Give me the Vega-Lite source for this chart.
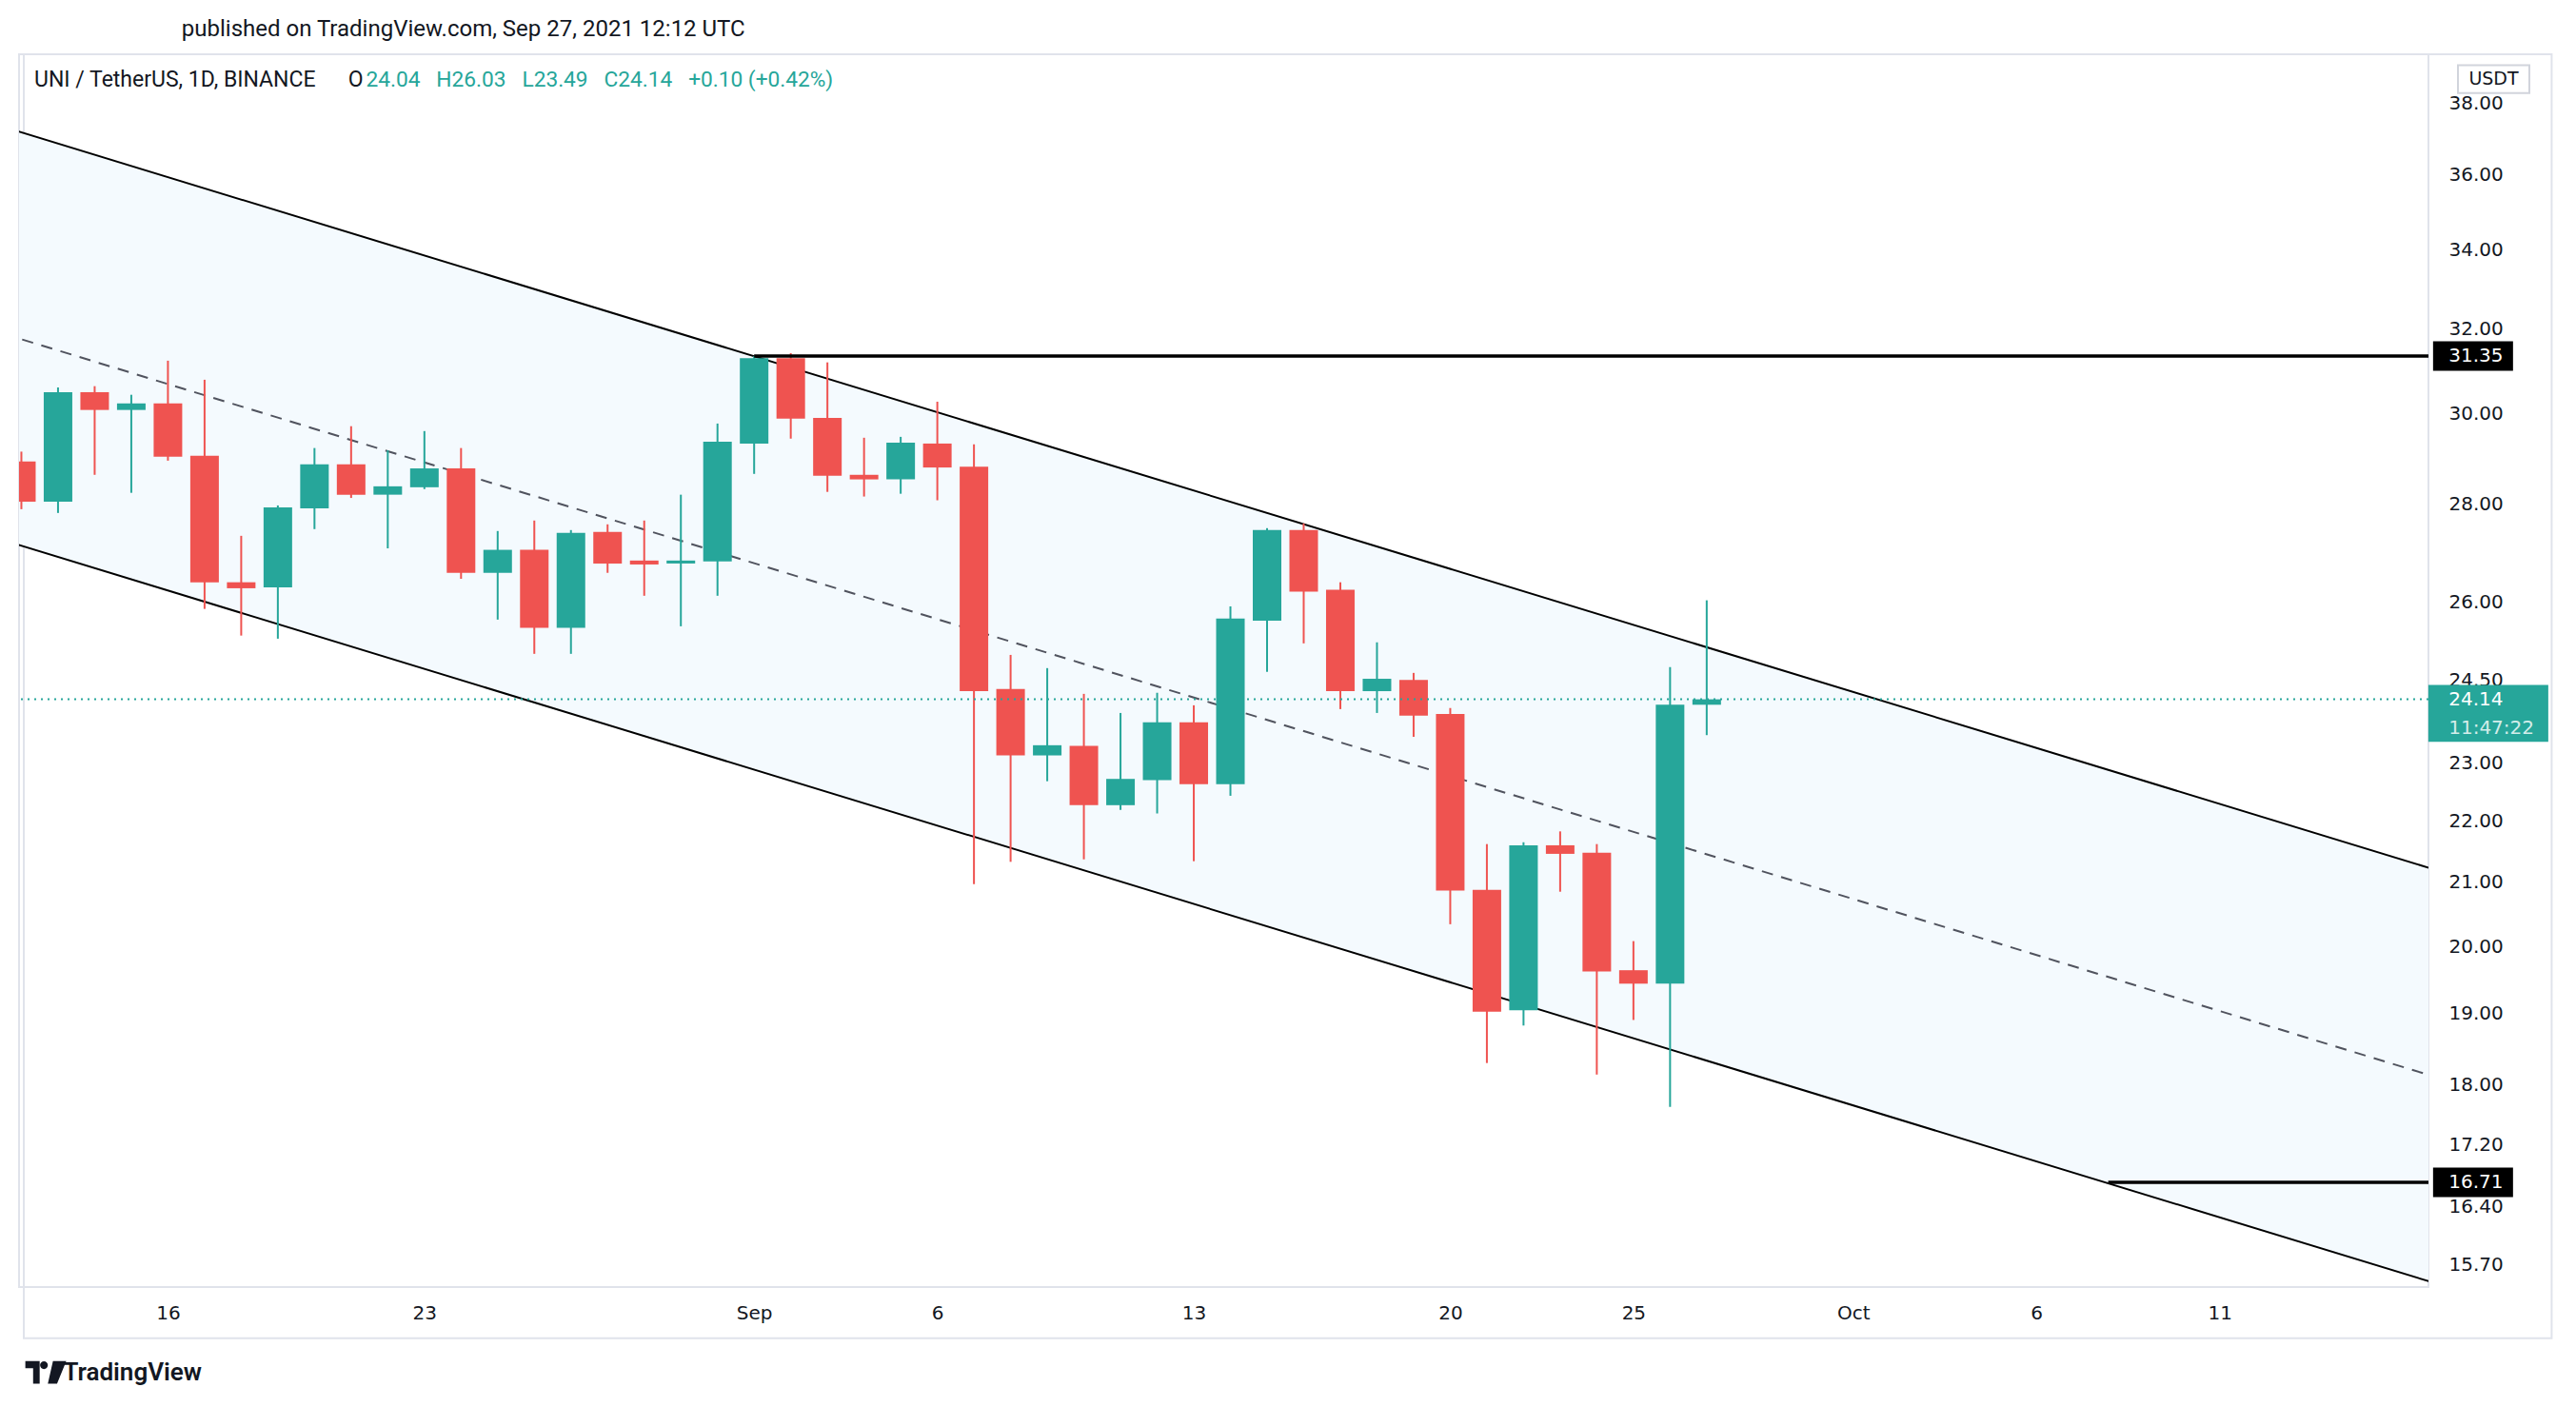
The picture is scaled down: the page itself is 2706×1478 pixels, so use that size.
{
  "$schema": "https://vega.github.io/schema/vega-lite/v6.json",
  "width": 2531,
  "height": 1295,
  "autosize": {"type": "none"},
  "padding": {"left": 20, "top": 57, "right": 155, "bottom": 126},
  "background": "#ffffff",
  "config": {"view": {"stroke": "#e0e3eb", "strokeWidth": 2}, "font": "Roboto"},
  "title": {
    "text": "\u200b\u00a0\u00a0\u00a0\u00a0\u00a0\u00a0\u00a0\u00a0\u00a0\u00a0\u00a0\u00a0\u00a0\u00a0\u00a0\u00a0\u00a0\u00a0\u00a0\u00a0\u00a0\u00a0\u00a0\u00a0\u00a0\u00a0published on TradingView.com, Sep 27, 2021 12:12 UTC",
    "subtitle": "UNI / TetherUS, 1D, BINANCE\u00a0\u00a0\u00a0\u00a0\u00a0\u00a0O",
    "anchor": "start",
    "frame": "group",
    "dx": 16,
    "offset": -40,
    "subtitlePadding": 30,
    "font": "Roboto",
    "fontSize": 24,
    "fontWeight": "normal",
    "color": "#131722",
    "subtitleFont": "Roboto",
    "subtitleFontSize": 23,
    "subtitleColor": "#131722"
  },
  "datasets": {
    "candles": [
      {"date": "2021-08-12", "open": 28.93, "high": 29.15, "low": 27.90, "close": 28.06},
      {"date": "2021-08-13", "open": 28.06, "high": 30.61, "low": 27.82, "close": 30.50},
      {"date": "2021-08-14", "open": 30.50, "high": 30.64, "low": 28.64, "close": 30.09},
      {"date": "2021-08-15", "open": 30.09, "high": 30.44, "low": 28.25, "close": 30.24},
      {"date": "2021-08-16", "open": 30.24, "high": 31.24, "low": 28.95, "close": 29.04},
      {"date": "2021-08-17", "open": 29.06, "high": 30.79, "low": 25.86, "close": 26.39},
      {"date": "2021-08-18", "open": 26.39, "high": 27.34, "low": 25.34, "close": 26.27},
      {"date": "2021-08-19", "open": 26.29, "high": 27.98, "low": 25.28, "close": 27.94},
      {"date": "2021-08-20", "open": 27.92, "high": 29.23, "low": 27.48, "close": 28.87},
      {"date": "2021-08-21", "open": 28.87, "high": 29.72, "low": 28.14, "close": 28.21},
      {"date": "2021-08-22", "open": 28.21, "high": 29.18, "low": 27.08, "close": 28.39},
      {"date": "2021-08-23", "open": 28.37, "high": 29.61, "low": 28.33, "close": 28.78},
      {"date": "2021-08-24", "open": 28.78, "high": 29.23, "low": 26.46, "close": 26.58},
      {"date": "2021-08-25", "open": 26.58, "high": 27.44, "low": 25.65, "close": 27.05},
      {"date": "2021-08-26", "open": 27.05, "high": 27.66, "low": 24.99, "close": 25.49},
      {"date": "2021-08-27", "open": 25.49, "high": 27.46, "low": 24.99, "close": 27.40},
      {"date": "2021-08-28", "open": 27.42, "high": 27.58, "low": 26.58, "close": 26.77},
      {"date": "2021-08-29", "open": 26.83, "high": 27.66, "low": 26.12, "close": 26.75},
      {"date": "2021-08-30", "open": 26.77, "high": 28.21, "low": 25.52, "close": 26.83},
      {"date": "2021-08-31", "open": 26.81, "high": 29.78, "low": 26.12, "close": 29.37},
      {"date": "2021-09-01", "open": 29.33, "high": 31.35, "low": 28.66, "close": 31.30},
      {"date": "2021-09-02", "open": 31.30, "high": 31.42, "low": 29.44, "close": 29.89},
      {"date": "2021-09-03", "open": 29.91, "high": 31.20, "low": 28.27, "close": 28.62},
      {"date": "2021-09-04", "open": 28.64, "high": 29.46, "low": 28.17, "close": 28.54},
      {"date": "2021-09-05", "open": 28.54, "high": 29.48, "low": 28.23, "close": 29.35},
      {"date": "2021-09-06", "open": 29.33, "high": 30.28, "low": 28.09, "close": 28.80},
      {"date": "2021-09-07", "open": 28.82, "high": 29.31, "low": 20.97, "close": 24.29},
      {"date": "2021-09-08", "open": 24.33, "high": 24.97, "low": 21.33, "close": 23.13},
      {"date": "2021-09-09", "open": 23.13, "high": 24.72, "low": 22.68, "close": 23.31},
      {"date": "2021-09-10", "open": 23.30, "high": 24.24, "low": 21.37, "close": 22.27},
      {"date": "2021-09-11", "open": 22.27, "high": 23.89, "low": 22.19, "close": 22.72},
      {"date": "2021-09-12", "open": 22.70, "high": 24.26, "low": 22.13, "close": 23.72},
      {"date": "2021-09-13", "open": 23.72, "high": 24.03, "low": 21.34, "close": 22.63},
      {"date": "2021-09-14", "open": 22.63, "high": 25.91, "low": 22.43, "close": 25.67},
      {"date": "2021-09-15", "open": 25.63, "high": 27.50, "low": 24.65, "close": 27.46},
      {"date": "2021-09-16", "open": 27.46, "high": 27.60, "low": 25.19, "close": 26.20},
      {"date": "2021-09-17", "open": 26.24, "high": 26.39, "low": 23.96, "close": 24.29},
      {"date": "2021-09-18", "open": 24.29, "high": 25.21, "low": 23.89, "close": 24.52},
      {"date": "2021-09-19", "open": 24.50, "high": 24.63, "low": 23.46, "close": 23.84},
      {"date": "2021-09-20", "open": 23.87, "high": 23.98, "low": 20.34, "close": 20.87},
      {"date": "2021-09-21", "open": 20.88, "high": 21.62, "low": 18.30, "close": 19.03},
      {"date": "2021-09-22", "open": 19.05, "high": 21.65, "low": 18.83, "close": 21.60},
      {"date": "2021-09-23", "open": 21.60, "high": 21.83, "low": 20.85, "close": 21.46},
      {"date": "2021-09-24", "open": 21.48, "high": 21.62, "low": 18.14, "close": 19.62},
      {"date": "2021-09-25", "open": 19.64, "high": 20.08, "low": 18.91, "close": 19.44},
      {"date": "2021-09-26", "open": 19.44, "high": 24.74, "low": 17.70, "close": 24.04},
      {"date": "2021-09-27", "open": 24.04, "high": 26.03, "low": 23.49, "close": 24.14}
    ],
    "channel": [
      {"date": "2021-08-11T12:00:00Z", "upper": 37.33, "mid": 31.89, "lower": 27.25},
      {"date": "2021-10-17T00:00:00Z", "upper": 21.18, "mid": 18.09, "lower": 15.46}
    ],
    "hlines": [
      {"start": "2021-09-01T00:00:00Z", "end": "2021-10-17T00:00:00Z", "price": 31.35},
      {"start": "2021-10-07T23:00:00Z", "end": "2021-10-17T00:00:00Z", "price": 16.71}
    ],
    "levels": [
      {"price": 31.35, "label": "31.35"},
      {"price": 16.71, "label": "16.71"}
    ],
    "last": [
      {"price": 24.14, "label": "24.14", "countdown": "11:47:22"}
    ]
  },
  "layer": [
    {
      "data": {"values": [{}]},
      "mark": {"type": "rect", "fillOpacity": 0, "stroke": "#e0e3eb", "strokeWidth": 2},
      "encoding": {
        "x": {"datum": {"year": 2021, "month": 8, "date": 12, "hours": 1, "minutes": 35, "utc": true}, "type": "temporal"},
        "x2": {"datum": {"year": 2021, "month": 10, "date": 20, "hours": 1, "minutes": 30, "utc": true}},
        "y": {"datum": 39.45, "type": "quantitative"},
        "y2": {"datum": 14.84}
      }
    },
    {
      "data": {"name": "channel"},
      "mark": {"type": "area", "color": "#f4fafe", "clip": true},
      "encoding": {
        "x": {
          "field": "date",
          "type": "temporal",
          "scale": {
            "type": "utc",
            "domain": [
              {"year": 2021, "month": 8, "date": 12, "hours": 1, "minutes": 35, "utc": true},
              {"year": 2021, "month": 10, "date": 16, "hours": 13, "minutes": 40, "utc": true}
            ]
          },
          "axis": {
            "values": [
              {"year": 2021, "month": 8, "date": 16, "utc": true},
              {"year": 2021, "month": 8, "date": 23, "utc": true},
              {"year": 2021, "month": 9, "date": 1, "utc": true},
              {"year": 2021, "month": 9, "date": 6, "utc": true},
              {"year": 2021, "month": 9, "date": 13, "utc": true},
              {"year": 2021, "month": 9, "date": 20, "utc": true},
              {"year": 2021, "month": 9, "date": 25, "utc": true},
              {"year": 2021, "month": 10, "date": 1, "utc": true},
              {"year": 2021, "month": 10, "date": 6, "utc": true},
              {"year": 2021, "month": 10, "date": 11, "utc": true}
            ],
            "labelExpr": "utcdate(datum.value) == 1 ? utcFormat(datum.value, '%b') : utcFormat(datum.value, '%-d')",
            "title": "TradingView",
            "titleX": 46,
            "titleY": 89,
            "titleAlign": "left",
            "titleAnchor": "start",
            "titleBaseline": "middle",
            "titleFont": "Roboto",
            "titleFontSize": 26,
            "titleFontWeight": 600,
            "titleColor": "#131722",
            "labelFont": "DejaVu Sans",
            "labelFontSize": 20,
            "labelColor": "#131722",
            "labelPadding": 17,
            "ticks": false,
            "tickSize": 0,
            "domain": false,
            "grid": false,
            "labelFlush": false,
            "labelOverlap": false
          }
        },
        "y": {
          "field": "upper",
          "type": "quantitative",
          "scale": {"type": "log", "domain": [15.43, 39.45], "nice": false},
          "axis": {
            "orient": "right",
            "values": [15.7, 16.4, 17.2, 18, 19, 20, 21, 22, 23, 24.5, 26, 28, 30, 32, 34, 36, 38],
            "format": ".2f",
            "labelFont": "DejaVu Sans",
            "labelFontSize": 20,
            "labelColor": "#131722",
            "labelPadding": 21,
            "labelBaseline": "middle",
            "ticks": false,
            "tickSize": 0,
            "domain": false,
            "grid": false,
            "labelOverlap": false,
            "labelFlush": false,
            "title": "24.04\u00a0\u00a0\u00a0H26.03\u00a0\u00a0\u00a0L23.49\u00a0\u00a0\u00a0C24.14\u00a0\u00a0\u00a0+0.10 (+0.42%)",
            "titleX": -2167,
            "titleY": 26,
            "titleAngle": 0,
            "titleAlign": "left",
            "titleBaseline": "middle",
            "titleFont": "Roboto",
            "titleFontSize": 22.7,
            "titleFontWeight": "normal",
            "titleColor": "#26a69a"
          }
        },
        "y2": {"field": "lower"}
      }
    },
    {
      "data": {"name": "channel"},
      "mark": {"type": "line", "color": "#000000", "strokeWidth": 2, "clip": true},
      "encoding": {"x": {"field": "date", "type": "temporal"}, "y": {"field": "upper", "type": "quantitative"}}
    },
    {
      "data": {"name": "channel"},
      "mark": {"type": "line", "color": "#000000", "strokeWidth": 2, "clip": true},
      "encoding": {"x": {"field": "date", "type": "temporal"}, "y": {"field": "lower", "type": "quantitative"}}
    },
    {
      "data": {"name": "channel"},
      "mark": {"type": "line", "color": "#50535e", "strokeWidth": 2, "strokeDash": [12, 9], "clip": true},
      "encoding": {"x": {"field": "date", "type": "temporal"}, "y": {"field": "mid", "type": "quantitative"}}
    },
    {
      "data": {"name": "candles"},
      "mark": {"type": "rule", "strokeWidth": 2, "clip": true},
      "encoding": {
        "x": {"field": "date", "type": "temporal"},
        "y": {"field": "low", "type": "quantitative"},
        "y2": {"field": "high"},
        "color": {"condition": {"test": "datum.close >= datum.open", "value": "#26a69a"}, "value": "#ef5350"}
      }
    },
    {
      "data": {"name": "candles"},
      "mark": {"type": "bar", "width": 30, "clip": true},
      "encoding": {
        "x": {"field": "date", "type": "temporal"},
        "y": {"field": "open", "type": "quantitative"},
        "y2": {"field": "close"},
        "color": {"condition": {"test": "datum.close >= datum.open", "value": "#26a69a"}, "value": "#ef5350"}
      }
    },
    {
      "data": {"name": "last"},
      "mark": {"type": "rule", "color": "#26a69a", "strokeWidth": 2, "strokeDash": [2, 5]},
      "encoding": {"y": {"field": "price", "type": "quantitative"}}
    },
    {
      "data": {"name": "hlines"},
      "mark": {"type": "rule", "color": "#000000", "strokeWidth": 3.5, "clip": true},
      "encoding": {
        "x": {"field": "start", "type": "temporal"},
        "x2": {"field": "end"},
        "y": {"field": "price", "type": "quantitative"}
      }
    },
    {
      "data": {"name": "levels"},
      "mark": {"type": "point", "shape": "M-1,-0.37H1V0.37H-1Z", "filled": true, "color": "#000000", "opacity": 1, "size": 7056},
      "encoding": {
        "x": {"datum": {"year": 2021, "month": 10, "date": 17, "hours": 22, "utc": true}, "type": "temporal"},
        "y": {"field": "price", "type": "quantitative"}
      }
    },
    {
      "data": {"name": "levels"},
      "mark": {"type": "text", "align": "left", "baseline": "middle", "font": "DejaVu Sans", "fontSize": 20, "color": "#ffffff"},
      "encoding": {
        "x": {"datum": {"year": 2021, "month": 10, "date": 17, "hours": 6, "minutes": 0, "utc": true}, "type": "temporal"},
        "y": {"field": "price", "type": "quantitative"},
        "text": {"field": "label"}
      }
    },
    {
      "data": {"name": "last"},
      "mark": {"type": "point", "shape": "M-1,-0.24H1V0.71H-1Z", "filled": true, "color": "#26a69a", "opacity": 1, "size": 15876},
      "encoding": {
        "x": {"datum": {"year": 2021, "month": 10, "date": 18, "hours": 8, "minutes": 0, "utc": true}, "type": "temporal"},
        "y": {"field": "price", "type": "quantitative"}
      }
    },
    {
      "data": {"name": "last"},
      "mark": {"type": "text", "align": "left", "baseline": "middle", "font": "DejaVu Sans", "fontSize": 20, "color": "#ffffff"},
      "encoding": {
        "x": {"datum": {"year": 2021, "month": 10, "date": 17, "hours": 6, "minutes": 0, "utc": true}, "type": "temporal"},
        "y": {"field": "price", "type": "quantitative"},
        "text": {"field": "label"}
      }
    },
    {
      "data": {"name": "last"},
      "mark": {"type": "text", "align": "left", "baseline": "middle", "font": "DejaVu Sans", "fontSize": 20, "color": "#ffffff", "opacity": 0.8, "dy": 30},
      "encoding": {
        "x": {"datum": {"year": 2021, "month": 10, "date": 17, "hours": 6, "minutes": 0, "utc": true}, "type": "temporal"},
        "y": {"field": "price", "type": "quantitative"},
        "text": {"field": "countdown"}
      }
    },
    {
      "data": {"values": [{"unit": "USDT"}]},
      "mark": {"type": "point", "shape": "M-1,-0.39H1V0.39H-1Z", "filled": true, "fill": "#ffffff", "stroke": "#d1d4dc", "strokeWidth": 2, "opacity": 1, "size": 5625},
      "encoding": {
        "x": {"datum": {"year": 2021, "month": 10, "date": 18, "hours": 11, "minutes": 30, "utc": true}, "type": "temporal"},
        "y": {"datum": 38.71, "type": "quantitative"}
      }
    },
    {
      "data": {"values": [{"unit": "USDT"}]},
      "mark": {"type": "text", "align": "center", "baseline": "middle", "font": "DejaVu Sans", "fontSize": 19, "color": "#131722"},
      "encoding": {
        "x": {"datum": {"year": 2021, "month": 10, "date": 18, "hours": 11, "minutes": 30, "utc": true}, "type": "temporal"},
        "y": {"datum": 38.71, "type": "quantitative"},
        "text": {"field": "unit"}
      }
    },
    {
      "data": {"values": [{"brand": "TradingView"}]},
      "mark": {"type": "point", "shape": "M-1,-0.55H-0.3V0.55H-0.62V-0.2H-1Z M-0.28,-0.35A0.19,0.19 0 1,0 0.1,-0.35A0.19,0.19 0 1,0 -0.28,-0.35Z M0.35,-0.55H1L0.55,0.55H0.1Z", "filled": true, "color": "#131722", "opacity": 1, "size": 1849},
      "encoding": {
        "x": {"datum": {"year": 2021, "month": 8, "date": 12, "hours": 16, "utc": true}, "type": "temporal"},
        "y": {"datum": 14.46, "type": "quantitative"}
      }
    }
  ]
}
